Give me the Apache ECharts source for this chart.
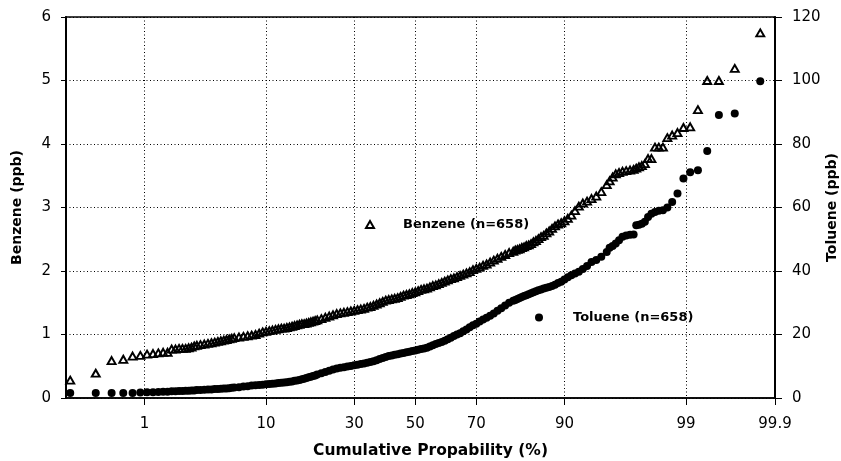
<!DOCTYPE html>
<html>
<head>
<meta charset="utf-8">
<script src="https://cdn.jsdelivr.net/npm/echarts@6/dist/echarts.min.js"></script>
<style>
html,body{margin:0;padding:0;background:#fff;}
#chart{width:841px;height:461px;}
</style>
</head>
<body>
<div id="chart"></div>
<script>
// Cumulative probability (%) of each plotted order statistic (n = 658, plotting position i/(n+1))
const cumProb = [
  0.152,0.303,0.455,0.607,0.759,0.910,1.062,1.214,1.366,1.517,1.669,1.821,1.973,2.124,2.276,2.428,2.580,2.731,2.883,3.035,
  3.25,3.5,3.75,4,4.25,4.5,4.75,5,5.25,5.5,5.75,6,
  6.5,7,7.5,8,8.5,9,9.5,10,10.5,11,11.5,12,12.5,13,13.5,14,14.5,15,15.5,16,16.5,17,17.5,18,18.5,19,19.5,20,
  21,22,23,24,25,26,27,28,29,30,31,32,33,34,35,36,37,38,39,40,
  41,42,43,44,45,46,47,48,49,50,51,52,53,54,55,56,57,58,59,60,
  61,62,63,64,65,66,67,68,69,70,71,72,73,74,75,76,77,78,79,80,
  80.5,81,81.5,82,82.5,83,83.5,84,84.5,85,85.5,86,86.5,87,87.5,88,88.5,89,89.5,90,
  90.5,91,91.5,92,92.5,93,93.5,94,94.5,95,
  95.25,95.5,95.75,96,96.25,96.5,96.75,
  96.965,97.117,97.269,97.420,97.572,97.724,97.876,98.027,98.179,98.331,
  98.483,98.634,98.786,98.938,99.090,99.241,99.393,99.545,99.697,99.848
];
// Benzene concentration (ppb)
const benzene = [
  0.28,0.39,0.59,0.61,0.66,0.67,0.69,0.70,0.71,0.72,0.72,0.77,0.77,0.78,0.78,0.78,0.79,0.80,0.82,0.83,
  0.84,0.85,0.86,0.87,0.88,0.89,0.90,0.91,0.92,0.93,0.94,0.95,
  0.96,0.97,0.98,0.99,1.00,1.02,1.04,1.05,1.06,1.07,1.08,1.09,1.10,1.10,1.11,1.12,1.13,1.14,1.15,1.16,1.17,1.17,1.18,1.19,1.20,1.21,1.22,1.23,
  1.25,1.27,1.29,1.31,1.33,1.34,1.35,1.36,1.37,1.38,1.39,1.40,1.41,1.43,1.44,1.46,1.48,1.50,1.52,1.54,
  1.55,1.56,1.57,1.58,1.60,1.62,1.63,1.64,1.66,1.67,1.69,1.71,1.72,1.73,1.75,1.77,1.78,1.80,1.82,1.84,
  1.86,1.88,1.89,1.91,1.93,1.95,1.97,1.99,2.02,2.04,2.06,2.09,2.11,2.14,2.17,2.20,2.23,2.26,2.29,2.31,
  2.33,2.34,2.35,2.37,2.38,2.40,2.41,2.43,2.46,2.48,2.51,2.54,2.56,2.60,2.63,2.67,2.71,2.74,2.76,2.79,
  2.83,2.88,2.95,3.02,3.07,3.10,3.14,3.18,3.25,3.36,
  3.42,3.48,3.53,3.55,3.57,3.58,3.59,
  3.60,3.62,3.64,3.66,3.69,3.77,3.77,3.95,3.95,3.95,
  4.10,4.14,4.18,4.26,4.27,4.54,5.00,5.00,5.19,5.75
];
// Toluene concentration (ppb)
const toluene = [
  1.6,1.6,1.6,1.6,1.6,1.7,1.8,1.8,1.9,2.0,2.0,2.1,2.1,2.2,2.2,2.3,2.3,2.4,2.4,2.5,
  2.5,2.6,2.7,2.7,2.8,2.8,2.9,3.0,3.0,3.1,3.2,3.3,
  3.4,3.6,3.7,3.9,4.0,4.1,4.2,4.3,4.4,4.5,4.6,4.7,4.8,4.9,5.0,5.1,5.2,5.4,5.5,5.7,5.9,6.1,6.3,6.5,6.7,6.9,7.1,7.4,
  7.8,8.2,8.6,9.0,9.3,9.5,9.7,9.9,10.1,10.3,10.5,10.7,10.9,11.1,11.3,11.6,11.9,12.3,12.6,12.9,
  13.2,13.4,13.6,13.8,14.0,14.2,14.4,14.6,14.8,15.0,15.2,15.4,15.6,15.8,16.2,16.6,17.0,17.3,17.6,18.0,
  18.5,19.0,19.5,20.0,20.4,21.0,21.6,22.3,22.9,23.4,24.1,24.7,25.3,25.9,26.6,27.5,28.3,29.1,30.0,30.6,
  30.9,31.2,31.5,31.8,32.1,32.4,32.7,33.0,33.3,33.6,33.9,34.2,34.5,34.7,35.0,35.3,35.7,36.2,36.6,37.3,
  38.0,38.7,39.2,39.8,40.6,41.6,42.8,43.5,44.5,46.0,
  47.3,47.9,48.7,49.7,50.8,51.2,51.4,
  51.5,54.4,54.6,54.9,55.5,57.0,58.0,58.6,59.0,59.1,
  60.0,61.7,64.4,69.1,71.1,71.7,77.8,89.1,89.6,99.8
];
const probTicks = [1, 10, 30, 50, 70, 90, 99, 99.9];
const probTickLabels = ['1', '10', '30', '50', '70', '90', '99', '99.9'];
const benzeneName = 'Benzene (n=658)';
const tolueneName = 'Toluene (n=658)';

// Normal probability scale: inverse standard normal CDF (Acklam)
function probit(p) {
  const a=[-3.969683028665376e+01,2.209460984245205e+02,-2.759285104469687e+02,1.383577518672690e+02,-3.066479806614716e+01,2.506628277459239e+00];
  const b=[-5.447609879822406e+01,1.615858368580409e+02,-1.556989798598866e+02,6.680131188771972e+01,-1.328068155288572e+01];
  const c=[-7.784894002430293e-03,-3.223964580411365e-01,-2.400758277161838e+00,-2.549671324285203e+00,4.374664141464968e+00,2.938163982698783e+00];
  const d=[7.784695709041462e-03,3.224671290700398e-01,2.445134137142996e+00,3.754408661907416e+00];
  const pl=0.02425, ph=1-pl; let q, r;
  if (p < pl) { q=Math.sqrt(-2*Math.log(p)); return (((((c[0]*q+c[1])*q+c[2])*q+c[3])*q+c[4])*q+c[5])/((((d[0]*q+d[1])*q+d[2])*q+d[3])*q+1); }
  if (p <= ph) { q=p-0.5; r=q*q; return (((((a[0]*r+a[1])*r+a[2])*r+a[3])*r+a[4])*r+a[5])*q/(((((b[0]*r+b[1])*r+b[2])*r+b[3])*r+b[4])*r+1); }
  q=Math.sqrt(-2*Math.log(1-p)); return -(((((c[0]*q+c[1])*q+c[2])*q+c[3])*q+c[4])*q+c[5])/((((d[0]*q+d[1])*q+d[2])*q+d[3])*q+1);
}
const tickZ = probTicks.map(p => probit(p / 100));
function tickLabel(v) {
  let best = 0;
  for (let i = 1; i < tickZ.length; i++) if (Math.abs(tickZ[i]-v) < Math.abs(tickZ[best]-v)) best = i;
  return probTickLabels[best];
}

const benzeneData = cumProb.map((p, i) => [probit(p / 100), benzene[i]]);
const tolueneData = cumProb.map((p, i) => [probit(p / 100), toluene[i]]);

const numFont = 'DejaVu Sans, sans-serif';
const boldFont = 'DejaVu Sans, sans-serif';
const dotted = { color: '#000', width: 1, type: [1, 2.5] };

const chart = echarts.init(document.getElementById('chart'), null, { renderer: 'canvas' });
chart.setOption({
  animation: false,
  backgroundColor: '#fff',
  grid: { left: 66, right: 66, top: 17, bottom: 63, outerBoundsMode: 'none', containLabel: false,
          show: true, borderColor: '#000', borderWidth: 1.5, backgroundColor: 'transparent' },
  legend: [
    { data: [benzeneName], left: 365, top: 218, padding: 0, itemWidth: 8, itemHeight: 7,
      selectedMode: false,
      textStyle: { fontFamily: boldFont, fontWeight: 'bold', fontSize: 13, color: '#000', padding: [0, 0, 0, 24] } },
    { data: [tolueneName], left: 535, top: 311, padding: 0, itemWidth: 8, itemHeight: 8,
      selectedMode: false,
      textStyle: { fontFamily: boldFont, fontWeight: 'bold', fontSize: 13, color: '#000', padding: [0, 0, 0, 25] } }
  ],
  xAxis: {
    type: 'value',
    min: -3,
    max: tickZ[tickZ.length - 1],
    name: 'Cumulative Propability (%)',
    nameLocation: 'middle',
    nameGap: 45,
    nameMoveOverlap: false,
    nameTextStyle: { fontFamily: boldFont, fontWeight: 'bold', fontSize: 15.5, color: '#000', padding: [0, 0, 0, 20] },
    axisLine: { show: true, onZero: false, lineStyle: { color: '#000', width: 1.5 } },
    axisTick: { show: true, customValues: tickZ, length: 7, lineStyle: { color: '#000', width: 1 } },
    axisLabel: { customValues: tickZ, formatter: tickLabel, margin: 19, fontSize: 15, color: '#000', fontFamily: numFont },
    splitLine: { show: true, lineStyle: dotted }
  },
  yAxis: [
    {
      type: 'value', min: 0, max: 6, interval: 1, position: 'left',
      name: 'Benzene (ppb)', nameLocation: 'middle', nameGap: 42, nameRotate: 90, nameMoveOverlap: false,
      nameTextStyle: { fontFamily: boldFont, fontWeight: 'bold', fontSize: 14, color: '#000' },
      axisLine: { show: true, onZero: false, lineStyle: { color: '#000', width: 2 } },
      axisTick: { show: true, length: 5, lineStyle: { color: '#000', width: 1 } },
      axisLabel: { margin: 15, fontSize: 15, color: '#000', fontFamily: numFont },
      splitLine: { show: true, lineStyle: dotted }
    },
    {
      type: 'value', min: 0, max: 120, interval: 20, position: 'right',
      name: 'Toluene (ppb)', nameLocation: 'middle', nameGap: 50, nameRotate: 90, nameMoveOverlap: false,
      nameTextStyle: { fontFamily: boldFont, fontWeight: 'bold', fontSize: 14, color: '#000' },
      axisLine: { show: true, onZero: false, lineStyle: { color: '#000', width: 2 } },
      axisTick: { show: true, length: 7, lineStyle: { color: '#000', width: 1 } },
      axisLabel: { margin: 17, fontSize: 15, color: '#000', fontFamily: numFont },
      splitLine: { show: false }
    }
  ],
  series: [
    {
      type: 'scatter', name: benzeneName, yAxisIndex: 0, data: benzeneData,
      symbol: 'triangle', symbolSize: [8, 7],
      itemStyle: { color: 'rgba(255,255,255,0)', borderColor: '#000', borderWidth: 1.9, opacity: 1 },
      emphasis: { disabled: true }
    },
    {
      type: 'scatter', name: tolueneName, yAxisIndex: 1, data: tolueneData,
      symbol: 'circle', symbolSize: 8,
      itemStyle: { color: '#000', opacity: 1 },
      emphasis: { disabled: true }
    }
  ]
});
</script>
</body>
</html>
